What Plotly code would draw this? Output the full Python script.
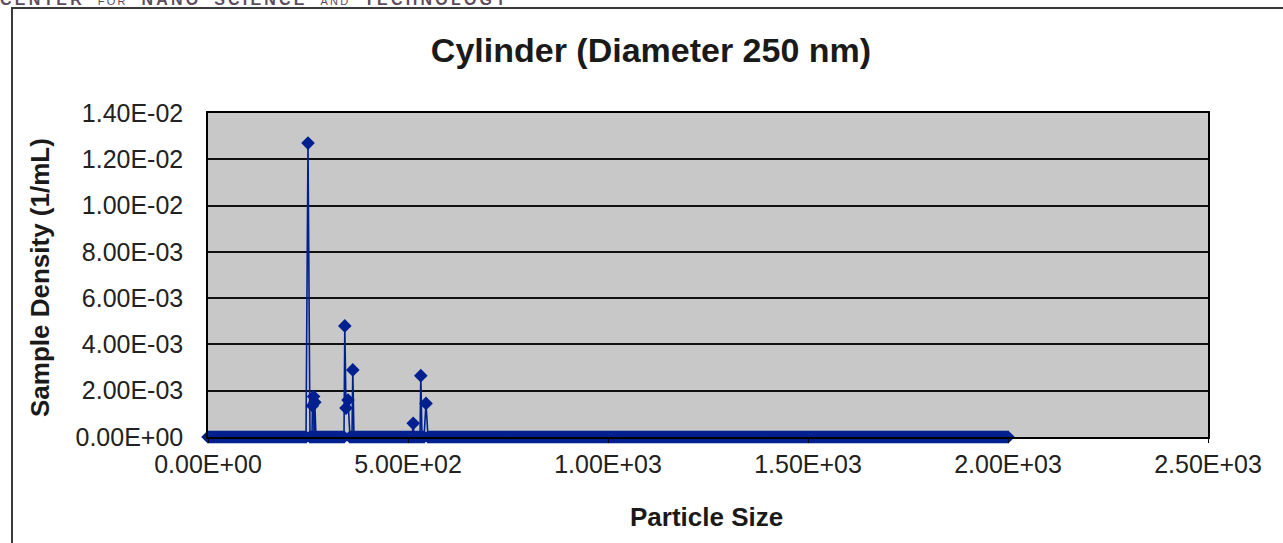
import numpy as np
import plotly.graph_objects as go

# ---------------- data ----------------
# measurement grid of particle sizes (nm); density is zero except at the peaks
grid_sizes = np.arange(0, 2001, 5)
grid_density = np.zeros(len(grid_sizes))

peak_sizes = [250, 261, 264, 267, 342, 345, 350, 362, 513, 532, 545]
peak_density = [1.27e-2, 1.35e-3, 1.75e-3, 1.5e-3, 4.8e-3, 1.25e-3, 1.6e-3, 2.9e-3, 0.59e-3, 2.65e-3, 1.45e-3]

x_tick_vals = [0, 500, 1000, 1500, 2000, 2500]
x_tick_text = ["0.00E+00", "5.00E+02", "1.00E+03", "1.50E+03", "2.00E+03", "2.50E+03"]
y_tick_vals = [0, 0.002, 0.004, 0.006, 0.008, 0.010, 0.012, 0.014]
y_tick_text = ["0.00E+00", "2.00E-03", "4.00E-03", "6.00E-03", "8.00E-03",
               "1.00E-02", "1.20E-02", "1.40E-02"]

title_text = "Cylinder (Diameter 250 nm)"
x_title = "Particle Size"
y_title = "Sample Density (1/mL)"
header_words = ["CENTER", "FOR", "NANO", "SCIENCE", "AND", "TECHNOLOGY"]
header_small = ["FOR", "AND"]

# merge grid and peaks, sorted by size
pts = {float(s): float(d) for s, d in zip(grid_sizes, grid_density)}
for s, d in zip(peak_sizes, peak_density):
    pts[float(s)] = d
xs = sorted(pts)
ys = [pts[s] for s in xs]

BLUE = "#00208F"
FONT = "Liberation Sans, Arial, sans-serif"

fig = go.Figure()
fig.add_trace(go.Scatter(
    x=xs, y=ys, mode="lines+markers",
    line=dict(color=BLUE, width=1.6),
    marker=dict(symbol="diamond", size=10.5, color=BLUE, line=dict(width=0)),
    cliponaxis=False, showlegend=False,
))

W, H = 1283, 543
L, R, T, B = 208, 1208, 113, 437

fig.update_layout(
    width=W, height=H,
    margin=dict(l=L, r=W - R, t=T, b=H - B, pad=0),
    paper_bgcolor="white",
    plot_bgcolor="#C8C8C8",
    font=dict(family=FONT, color="#222222"),
    title=dict(text="<b>" + title_text + "</b>", x=651 / W, xref="container", xanchor="center",
               y=1 - 50 / H, yref="container", yanchor="middle",
               font=dict(size=34, family=FONT, color="#1a1a1a")),
    xaxis=dict(range=[0, 2500], tickvals=x_tick_vals, ticktext=x_tick_text,
               showgrid=False, zeroline=False, showline=True, linecolor="#000000",
               linewidth=1.5, mirror=True, ticks="outside", ticklen=4, tickcolor="#000",
               tickfont=dict(size=25, family=FONT, color="#222")),
    yaxis=dict(range=[0, 0.014], tickvals=y_tick_vals, ticktext=y_tick_text,
               showgrid=True, gridcolor="#101010", gridwidth=2, zeroline=False,
               showline=True, linecolor="#000000", linewidth=1.5, mirror=True,
               ticks="", ticklabelstandoff=18,
               tickfont=dict(size=25, family=FONT, color="#222")),
)

ph = B - T
fig.add_annotation(text="<b>" + x_title + "</b>", xref="paper", yref="paper",
                   x=(706 - L) / (R - L), y=(B - 517) / ph, showarrow=False,
                   xanchor="center", yanchor="middle",
                   font=dict(size=26, family=FONT, color="#1a1a1a"))
fig.add_annotation(text="<b>" + y_title + "</b>", xref="paper", yref="paper",
                   x=(40 - L) / (R - L), y=(B - 278) / ph, showarrow=False,
                   textangle=-90, xanchor="center", yanchor="middle",
                   font=dict(size=26, family=FONT, color="#1a1a1a"))

# partially visible header line at the top edge (letter-spaced, small-caps look)
parts = []
for w in header_words:
    spaced = "\u2009".join(w)
    if w in header_small:
        parts.append("<span style='font-size:11px'>" + spaced + "</span>")
    else:
        parts.append("<b>" + spaced + "</b>")
header_html = "\u2003".join(parts)
fig.add_annotation(text=header_html, xref="paper", yref="paper",
                   x=(-2 - L) / (R - L), y=(B - 10) / ph, showarrow=False,
                   xanchor="left", yanchor="bottom",
                   font=dict(size=16, family=FONT, color="#5e4c5e"))

# frame around the slide content
fig.add_shape(type="rect", xref="paper", yref="paper",
              x0=(12 - L) / (R - L), x1=(1300 - L) / (R - L),
              y0=(B - 560) / ph, y1=(B - 8) / ph,
              line=dict(color="#3a3a3a", width=2), fillcolor="rgba(0,0,0,0)", layer="below")

fig.write_html("out.html", config={"displayModeBar": False},
               post_script="document.body.style.margin='0';")
